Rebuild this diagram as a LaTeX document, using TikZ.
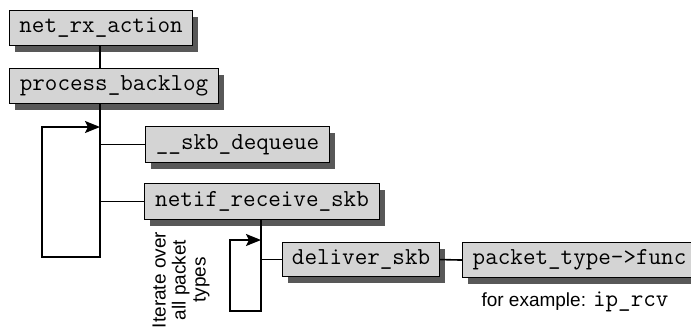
\documentclass[tikz,border=0pt]{standalone}
\usepackage{fontspec}
\setmainfont{Liberation Sans}
\usetikzlibrary{arrows.meta,shadows}
\definecolor{boxfill}{RGB}{212,212,212}
\definecolor{shadowgray}{RGB}{88,88,88}
\newcommand{\codesize}{\ttfamily\fontsize{24.4}{28}\selectfont}
\begin{document}
\begin{tikzpicture}[x=1pt,y=-1pt,
  fnbox/.style={draw=black, line width=1.1pt, fill=boxfill, inner sep=0pt,
    anchor=north west, minimum height=35pt,
    font=\codesize,
    drop shadow={shadow xshift=5pt, shadow yshift=-6pt, fill=shadowgray, opacity=1}},
  link/.style={line width=1.6pt, draw=black},
  looparrow/.style={link, -{Stealth[length=15pt,width=12pt,inset=3pt]}},
  note/.style={font=\fontsize{19}{20}\selectfont, inner sep=0pt}
]
\useasboundingbox[fill=white] (0,0) rectangle (691,327);

\node[fnbox, minimum width=183pt] (rx) at (9,10) {net\_rx\_action};
\node[fnbox, minimum width=209pt] (pb) at (9,68) {process\_backlog};
\node[fnbox, minimum width=184pt, minimum height=36pt] (dq) at (145,126) {\_\_skb\_dequeue};
\node[fnbox, minimum width=235pt, minimum height=36pt] (nr) at (144,183) {netif\_receive\_skb};
\node[fnbox, minimum width=157pt, minimum height=34pt] (ds) at (282,242) {deliver\_skb};
\node[fnbox, minimum width=234pt] (pt) at (462,242) {packet\_type->func};

\coordinate (outA) at (100,257);
\coordinate (outB) at (42,257);
\coordinate (outC) at (42,127);
\coordinate (outD) at (100,127);
\coordinate (inA) at (261,311);
\coordinate (inB) at (230,311);
\coordinate (inC) at (230,240);
\coordinate (inD) at (261,240);

\draw[link] (rx.south -| outA) -- (pb.north -| outA);
\draw[looparrow] (pb.south -| outA) -- (outA) -- (outB) -- (outC) -- (outD);
\draw[link] (dq.west) -- (dq.west -| outA);
\draw[link] (nr.west) -- (nr.west -| outA);
\draw[looparrow] (nr.south -| inA) -- (inA) -- (inB) -- (inC) -- (inD);
\draw[link] (ds.west) -- (ds.west -| inA);
\draw[link] (ds.east) -- (pt.west);

\node[note] (ex) at (575,302) {for example: {\codesize ip\_rcv}};
\node[note, rotate=90, align=center] (it) at (181,280) {Iterate over\\all packet\\types};
\end{tikzpicture}
\end{document}
